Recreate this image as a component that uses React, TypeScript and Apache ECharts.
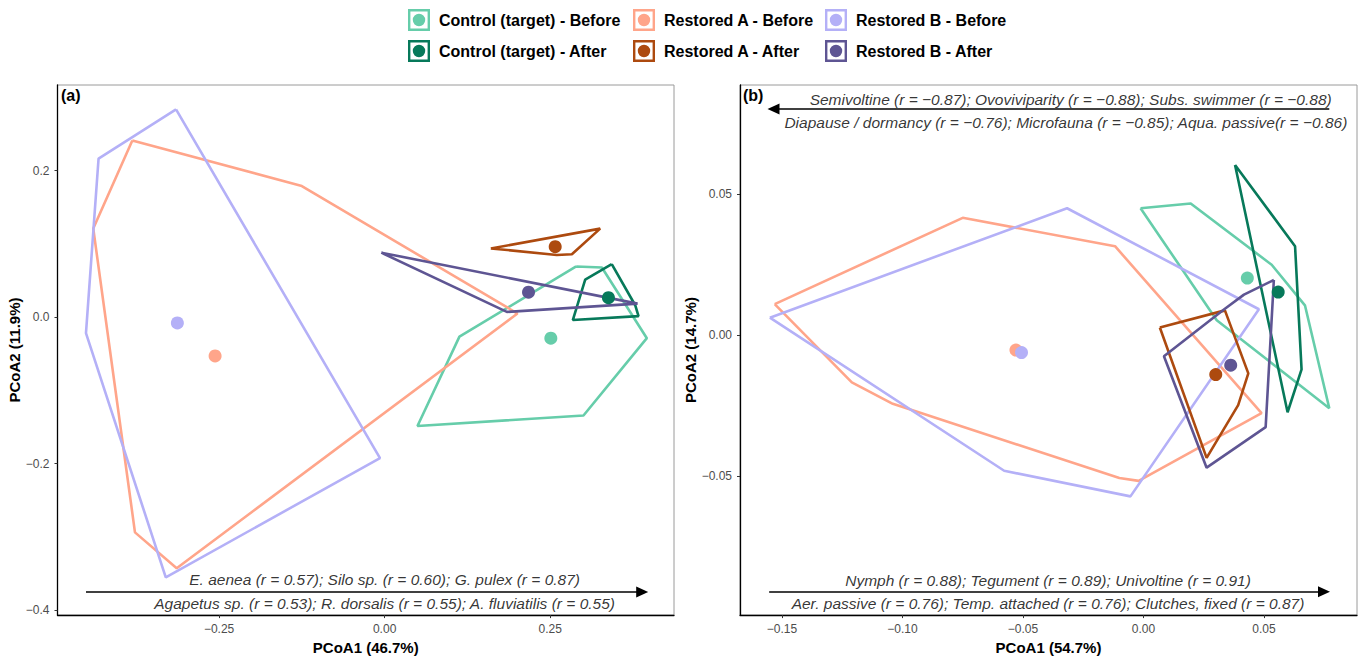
import React, { useEffect, useRef } from "react";
import * as echarts from "echarts";

const FONT = '"Liberation Sans", Arial, sans-serif';

const groupNames = [
  "Control (target) - Before",
  "Restored A - Before",
  "Restored B - Before",
  "Control (target) - After",
  "Restored A - After",
  "Restored B - After",
];
const groupColors = ["#66CDAA", "#FFA58A", "#B4B0F7", "#07795A", "#AD4A0F", "#5E5593"];

// Panel (a) hull vertices [PCoA1, PCoA2]
const aControlBefore = [[0.2893, 0.0692], [0.3281, 0.0678], [0.396, -0.0288], [0.3003, -0.1344], [0.0496, -0.1488], [0.113, -0.0266]];
const aRestABefore = [[-0.381, 0.2413], [-0.44, 0.121], [-0.377, -0.294], [-0.314, -0.343], [0.2006, 0.0049], [-0.125, 0.179]];
const aRestBBefore = [[-0.315, 0.2836], [-0.432, 0.2165], [-0.451, -0.022], [-0.3305, -0.3555], [-0.007, -0.1925]];
const aControlAfter = [[0.343, 0.0723], [0.3029, 0.0512], [0.2842, -0.004], [0.3834, 0.0013], [0.3784, 0.0162]];
const aRestAAfter = [[0.1604, 0.0938], [0.3255, 0.1208], [0.2828, 0.0858], [0.26, 0.0849]];
const aRestBAfter = [[-0.005, 0.088], [0.1846, 0.0071], [0.3819, 0.0184]];
// Panel (a) centroids
const aCentroids = [[0.251, -0.0288], [-0.256, -0.053], [-0.313, -0.008], [0.338, 0.0265], [0.2576, 0.0961], [0.2173, 0.0341]];

// Panel (b) hull vertices
const bControlBefore = [[-0.0012, 0.0451], [0.0196, 0.0468], [0.0532, 0.025], [0.067, 0.0106], [0.0771, -0.026], [0.0304, 0.0053]];
const bRestABefore = [[-0.153, 0.011], [-0.075, 0.0417], [-0.0118, 0.0316], [0.049, -0.0277], [-0.002, -0.0518], [-0.01, -0.0508], [-0.104, -0.0244], [-0.121, -0.0168]];
const bRestBBefore = [[-0.155, 0.0062], [-0.0317, 0.0451], [0.0479, 0.0092], [-0.0054, -0.0573], [-0.0578, -0.0482]];
const bControlAfter = [[0.038, 0.0605], [0.0629, 0.0316], [0.0656, -0.0122], [0.0598, -0.0274]];
const bRestAAfter = [[0.0068, 0.0027], [0.0338, 0.0088], [0.0435, -0.0136], [0.0393, -0.0249], [0.0262, -0.0436]];
const bRestBAfter = [[0.0541, 0.0196], [0.0417, 0.0144], [0.0338, 0.0094], [0.0085, -0.0075], [0.0262, -0.0471], [0.0507, -0.0327]];
// Panel (b) centroids
const bCentroids = [[0.0431, 0.0203], [-0.0529, -0.0053], [-0.0506, -0.0062], [0.0559, 0.0153], [0.03, -0.014], [0.0362, -0.0107]];

const aHulls = [aControlBefore, aRestABefore, aRestBBefore, aControlAfter, aRestAAfter, aRestBAfter];
const bHulls = [bControlBefore, bRestABefore, bRestBBefore, bControlAfter, bRestAAfter, bRestBAfter];

// Annotations
const aTexts = [
  { x: 0, y: -0.359, text: "E. aenea (r = 0.57); Silo sp. (r = 0.60); G. pulex (r = 0.87)" },
  { x: 0, y: -0.3906, text: "Agapetus sp. (r = 0.53); R. dorsalis (r = 0.55); A. fluviatilis (r = 0.55)" },
];
const aArrows = [{ from: [-0.451, -0.3754], to: [0.389, -0.3754] }];
const bTexts = [
  { x: -0.0302, y: 0.0837, text: "Semivoltine (r = −0.87); Ovoviviparity (r = −0.88); Subs. swimmer (r = −0.88)" },
  { x: -0.0322, y: 0.0757, text: "Diapause / dormancy (r = −0.76); Microfauna (r = −0.85); Aqua. passive(r = −0.86)" },
  { x: -0.0396, y: -0.0871, text: "Nymph (r = 0.88); Tegument (r = 0.89); Univoltine (r = 0.91)" },
  { x: -0.0396, y: -0.0953, text: "Aer. passive (r = 0.76); Temp. attached (r = 0.76); Clutches, fixed (r = 0.87)" },
];
const bArrows = [
  { from: [0.0771, 0.0804], to: [-0.1535, 0.0804] },
  { from: [-0.1553, -0.0912], to: [0.0749, -0.0912] },
];

const aXTicks = [-0.25, 0, 0.25];
const aYTicks = [-0.4, -0.2, 0, 0.2];
const bXTicks = [-0.15, -0.1, -0.05, 0, 0.05];
const bYTicks = [-0.05, 0, 0.05];

const KEY_PATH =
  "path://M0,0L22,0L22,22L0,22Z M2.4,2.4L2.4,19.6L19.6,19.6L19.6,2.4Z M4.8,11A6.2,6.2 0 1 0 17.2,11A6.2,6.2 0 1 0 4.8,11Z";

const fmt = (d: number) => (v: number) => {
  const s = Math.abs(v).toFixed(d);
  return v < -1e-9 ? "−" + s : s;
};

function buildOption() {
  const series: any[] = [];
  const panels = [
    { hulls: aHulls, cents: aCentroids, texts: aTexts, arrows: aArrows },
    { hulls: bHulls, cents: bCentroids, texts: bTexts, arrows: bArrows },
  ];
  panels.forEach((p, pi) => {
    p.hulls.forEach((h, gi) => {
      series.push({
        name: groupNames[gi] + " hull " + pi,
        type: "line",
        xAxisIndex: pi,
        yAxisIndex: pi,
        data: [...h, h[0]],
        showSymbol: false,
        symbol: "none",
        silent: true,
        lineStyle: { color: groupColors[gi], width: 2.6 },
        z: 2,
      });
    });
    p.cents.forEach((c, gi) => {
      series.push({
        name: groupNames[gi],
        type: "scatter",
        xAxisIndex: pi,
        yAxisIndex: pi,
        data: [c],
        symbolSize: 13,
        itemStyle: { color: groupColors[gi], opacity: 1 },
        silent: true,
        z: 4,
      });
    });
    series.push({
      name: "annot " + pi,
      type: "scatter",
      xAxisIndex: pi,
      yAxisIndex: pi,
      data: p.texts.map((t) => ({ value: [t.x, t.y], name: t.text })),
      symbolSize: 0,
      itemStyle: { color: "transparent" },
      silent: true,
      z: 5,
      label: {
        show: true,
        position: "inside",
        formatter: "{b}",
        fontStyle: "italic",
        fontSize: 15.5,
        color: "#000",
        fontFamily: FONT,
      },
      labelLayout: { hideOverlap: false },
      markLine: {
        silent: true,
        symbol: ["none", "triangle"],
        symbolSize: [11, 12],
        lineStyle: { color: "#000", width: 1.6, type: "solid" },
        label: { show: false },
        emphasis: { disabled: true },
        data: p.arrows.map((a) => [
          { coord: a.from, symbol: "none" },
          { coord: a.to, symbol: "triangle" },
        ]),
      },
    });
  });

  const axisCommon = (ticks: number[], digits: number) => ({
    type: "value",
    axisLine: { show: true, onZero: false, lineStyle: { color: "#000", width: 1.3 } },
    axisTick: { show: true, customValues: ticks, length: 3, lineStyle: { color: "#333", width: 1 } },
    axisLabel: {
      customValues: ticks,
      formatter: fmt(digits),
      color: "#4D4D4D",
      fontSize: 12,
      fontFamily: FONT,
    },
    splitLine: { show: false },
    nameLocation: "middle",
    nameTextStyle: { fontWeight: "bold", fontSize: 15, color: "#000", fontFamily: FONT },
  });

  const legendCol = (left: number, idx: number[]) => ({
    left,
    top: 4,
    orient: "vertical",
    itemWidth: 22,
    itemHeight: 22,
    itemGap: 9,
    selectedMode: false,
    icon: KEY_PATH,
    textStyle: { fontWeight: "bold", fontSize: 16, color: "#000", fontFamily: FONT, padding: [0, 0, 0, 4] },
    data: idx.map((i) => ({ name: groupNames[i], icon: KEY_PATH, itemStyle: { color: groupColors[i] } })),
  });

  return {
    animation: false,
    backgroundColor: "#fff",
    legend: [legendCol(403, [0, 3]), legendCol(628, [1, 4]), legendCol(820, [2, 5])],
    grid: [
      { left: 57.5, right: 686, top: 85, bottom: 38, show: true, borderColor: "#9a9a9a", borderWidth: 1, backgroundColor: "#fff" },
      { left: 740, right: 3, top: 85, bottom: 38, show: true, borderColor: "#9a9a9a", borderWidth: 1, backgroundColor: "#fff" },
    ],
    xAxis: [
      { ...axisCommon(aXTicks, 2), gridIndex: 0, min: -0.494, max: 0.437, name: "PCoA1 (46.7%)", nameGap: 22 },
      { ...axisCommon(bXTicks, 2), gridIndex: 1, min: -0.1674, max: 0.0886, name: "PCoA1 (54.7%)", nameGap: 22 },
    ],
    yAxis: [
      { ...axisCommon(aYTicks, 1), gridIndex: 0, min: -0.407, max: 0.317, name: "PCoA2 (11.9%)", nameGap: 32 },
      { ...axisCommon(bYTicks, 2), gridIndex: 1, min: -0.0995, max: 0.0889, name: "PCoA2 (14.7%)", nameGap: 37 },
    ],
    graphic: [
      { type: "text", left: 61, top: 87, style: { text: "(a)", font: `bold 16px ${FONT}`, fill: "#000" } },
      { type: "text", left: 743, top: 87, style: { text: "(b)", font: `bold 16px ${FONT}`, fill: "#000" } },
    ],
    series,
  };
}

export default function App() {
  const ref = useRef<HTMLDivElement>(null);
  useEffect(() => {
    const chart = echarts.init(ref.current!, null, { renderer: "svg" });
    chart.setOption(buildOption() as any);
    return () => chart.dispose();
  }, []);
  return (
    <div
      ref={ref}
      style={{ position: "fixed", left: 0, top: 0, width: 1360, height: 660, background: "#fff" }}
    />
  );
}
